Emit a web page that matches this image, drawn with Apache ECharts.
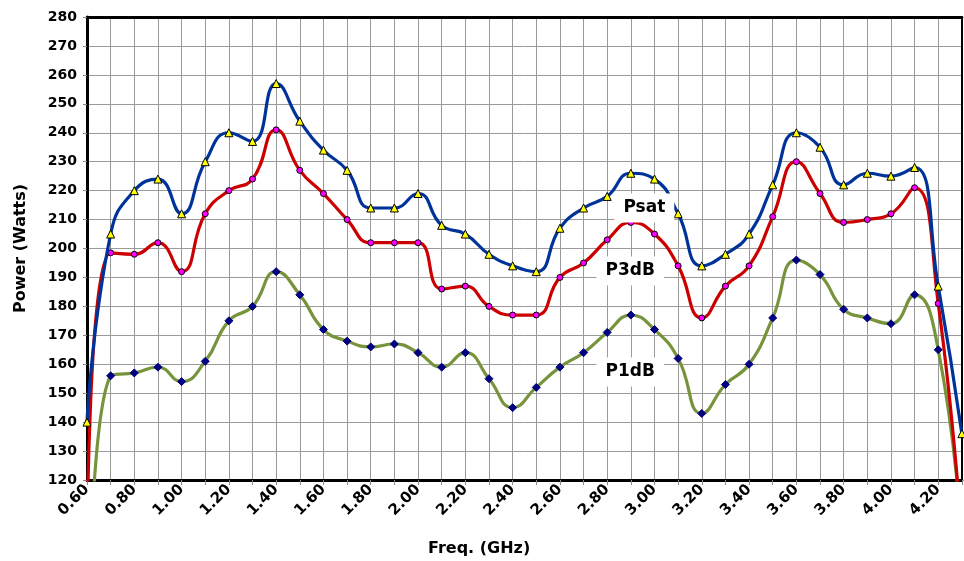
<!DOCTYPE html>
<html>
<head>
<meta charset="utf-8">
<script src="https://cdn.jsdelivr.net/npm/echarts@6/dist/echarts.min.js"></script>
<style>
  html, body { margin: 0; padding: 0; background: #fff; }
  #chart { width: 964px; height: 561px; }
</style>
</head>
<body>
<div id="chart"></div>
<script>
// frequency points (GHz)
var freq = [0.60, 0.70, 0.80, 0.90, 1.00, 1.10, 1.20, 1.30, 1.40, 1.50,
            1.60, 1.70, 1.80, 1.90, 2.00, 2.10, 2.20, 2.30, 2.40, 2.50,
            2.60, 2.70, 2.80, 2.90, 3.00, 3.10, 3.20, 3.30, 3.40, 3.50,
            3.60, 3.70, 3.80, 3.90, 4.00, 4.10, 4.20, 4.30];

var psat = [140, 205, 220, 224, 212, 230, 240, 237, 257, 244,
            234, 227, 214, 214, 219, 208, 205, 198, 194, 192,
            207, 214, 218, 226, 224, 212, 194, 198, 205, 222,
            240, 235, 222, 226, 225, 228, 187, 136];

var p3db = [95, 198.5, 198, 202, 192, 212, 220, 224, 241, 227,
            219, 210, 202, 202, 202, 186, 187, 180, 177, 177,
            190, 195, 203, 209, 205, 194, 176, 187, 194, 211,
            230, 219, 209, 210, 212, 221, 181, 100];

var p1db = [45, 156, 157, 159, 154, 161, 175, 180, 192, 184,
            172, 168, 166, 167, 164, 159, 164, 155, 145, 152,
            159, 164, 171, 177, 172, 162, 143, 153, 160, 176,
            196, 191, 179, 176, 174, 184, 165, 100];

// where the series names sit (data coords)
var labelPos = {
  Psat: [2.957, 214],
  P3dB: [2.897, 192.2],
  P1dB: [2.897, 157.3]
};

function pairs(ys) {
  var out = [];
  for (var i = 0; i < freq.length; i++) out.push([freq[i], ys[i]]);
  return out;
}

var font = 'DejaVu Sans';

function nameMark(name) {
  return {
    silent: true,
    symbol: 'rect',
    symbolSize: 0,
    data: [{
      coord: labelPos[name],
      label: {
        show: true,
        position: 'inside',
        formatter: name,
        fontFamily: font,
        fontWeight: 'bold',
        fontSize: 17,
        color: '#000',
        backgroundColor: '#fff',
        padding: [6, 9]
      }
    }]
  };
}

var chart = echarts.init(document.getElementById('chart'), null, { renderer: 'canvas' });

var option = {
  animation: false,
  backgroundColor: '#fff',
  grid: { left: 87, right: 2, top: 17, bottom: 81 },
  xAxis: [{
    type: 'value',
    min: 0.6,
    max: 4.3,
    interval: 0.1,
    axisLine: { onZero: false, lineStyle: { color: '#000', width: 3 } },
    axisTick: { show: true, length: 5, lineStyle: { color: '#888' } },
    axisLabel: {
      rotate: 45,
      margin: 7,
      fontFamily: font,
      fontWeight: 'bold',
      fontSize: 15,
      color: '#000',
      formatter: function (v) {
        var t = Math.round(v * 10);
        return (t % 2 === 0 && t < 43) ? (t / 10).toFixed(2) : '';
      }
    },
    splitLine: { show: true, lineStyle: { color: '#9a9a9a', width: 1 } }
  }, {
    type: 'value',
    position: 'top',
    min: 0.6,
    max: 4.3,
    axisLine: { show: true, lineStyle: { color: '#000', width: 3 } },
    axisTick: { show: false },
    axisLabel: { show: false },
    splitLine: { show: false }
  }],
  yAxis: [{
    type: 'value',
    min: 120,
    max: 280,
    interval: 10,
    name: 'Power (Watts)',
    nameLocation: 'middle',
    nameGap: 58,
    nameTextStyle: { fontFamily: font, fontWeight: 'bold', fontSize: 16, color: '#000' },
    axisLine: { show: true, lineStyle: { color: '#000', width: 3 } },
    axisTick: { show: true, length: 4, lineStyle: { color: '#888' } },
    axisLabel: { margin: 10, fontFamily: font, fontWeight: 'bold', fontSize: 14, color: '#000' },
    splitLine: { show: true, lineStyle: { color: '#9a9a9a', width: 1 } }
  }, {
    type: 'value',
    position: 'right',
    min: 120,
    max: 280,
    axisLine: { show: true, lineStyle: { color: '#000', width: 2 } },
    axisTick: { show: false },
    axisLabel: { show: false },
    splitLine: { show: false }
  }],
  graphic: [{
    type: 'text',
    left: 428,
    top: 541,
    style: {
      text: 'Freq. (GHz)',
      fontFamily: font,
      fontWeight: 'bold',
      fontSize: 16,
      fill: '#000'
    }
  }],
  series: [
    {
      name: 'P1dB',
      type: 'line',
      data: pairs(p1db),
      smooth: 0.5,
      symbol: 'diamond',
      symbolSize: 8,
      itemStyle: { color: '#000080', borderColor: '#000080', borderWidth: 1 },
      lineStyle: { color: '#77933C', width: 3.2 },
      markPoint: nameMark('P1dB'),
      z: 2
    },
    {
      name: 'P3dB',
      type: 'line',
      data: pairs(p3db),
      smooth: 0.5,
      symbol: 'circle',
      symbolSize: 6,
      itemStyle: { color: '#FF00FF', borderColor: '#000', borderWidth: 1 },
      lineStyle: { color: '#CC0000', width: 3.2 },
      markPoint: nameMark('P3dB'),
      z: 3
    },
    {
      name: 'Psat',
      type: 'line',
      data: pairs(psat),
      smooth: 0.5,
      symbol: 'triangle',
      symbolSize: 8,
      itemStyle: { color: '#FFFF00', borderColor: '#000', borderWidth: 1 },
      lineStyle: { color: '#003399', width: 3.2 },
      markPoint: nameMark('Psat'),
      z: 4
    }
  ]
};

chart.setOption(option);
</script>
</body>
</html>
